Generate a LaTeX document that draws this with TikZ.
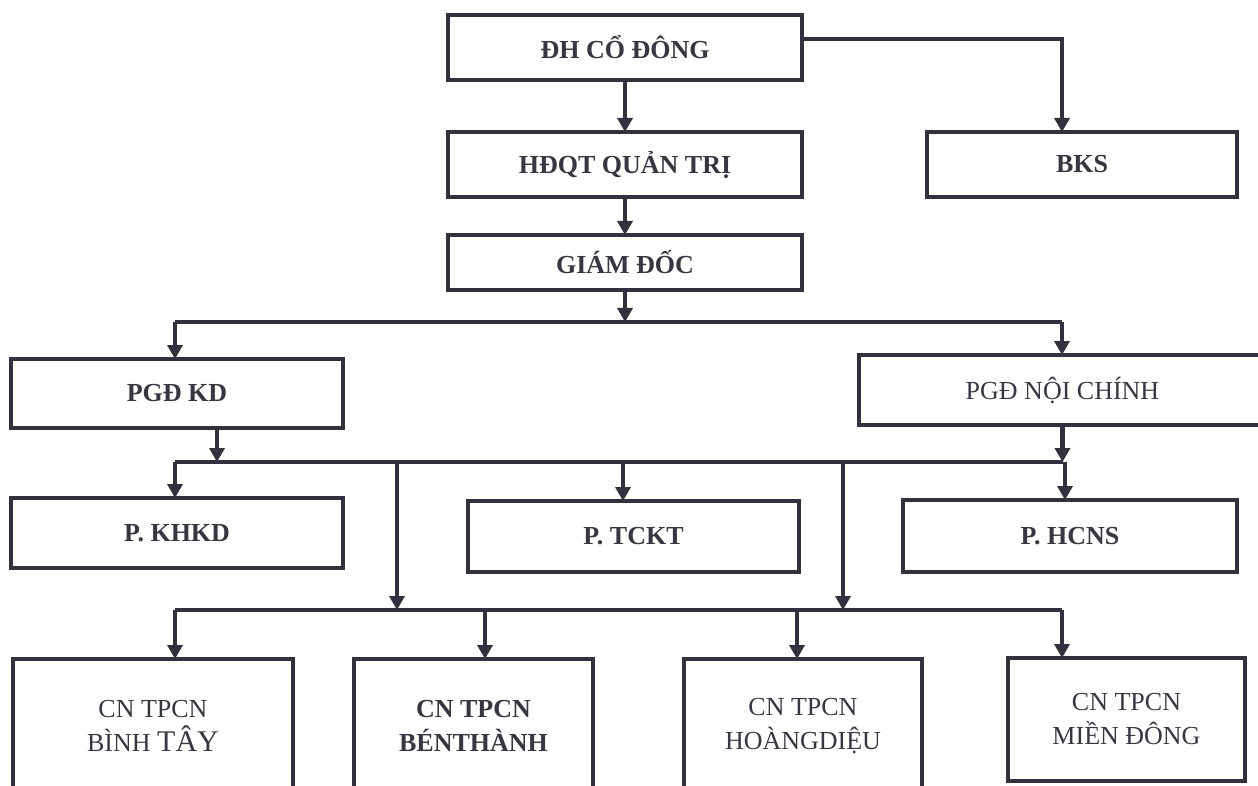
\documentclass[tikz,border=0pt]{standalone}
\usepackage{fontspec}
\setmainfont{Liberation Serif}
\usetikzlibrary{arrows.meta}
\definecolor{ink}{RGB}{50,50,62}
\definecolor{txt}{RGB}{55,55,66}
\begin{document}
\begin{tikzpicture}[x=1pt,y=-1pt,
  box/.style={draw=ink,line width=4.5pt,fill=none,inner sep=0pt,outer sep=0pt,
    text=txt,align=center,font=\fontsize{26}{34}\selectfont\bfseries},
  reg/.style={font=\fontsize{26}{34}\selectfont},
  ln/.style={draw=ink,line width=4.5pt},
  arr/.style={draw=ink,line width=4.5pt,-{Triangle[length=14pt,width=15pt]}}]
\useasboundingbox (0,0) rectangle (1258,786);
\clip (0,0) rectangle (1258,786);
\fill[white] (0,0) rectangle (1258,786);
% boxes
\node[box,minimum width=354pt,minimum height=65pt] (dh) at (625,47.5) {ĐH CỔ ĐÔNG};
\node[box,minimum width=354pt,minimum height=65pt] (hdqt) at (625,164.5) {HĐQT QUẢN TRỊ};
\node[box,minimum width=310pt,minimum height=65pt] (bks) at (1082,164.5) {BKS};
\node[box,minimum width=354pt,minimum height=55pt] (gd) at (625,262.5) {GIÁM ĐỐC};
\node[box,minimum width=332pt,minimum height=69pt] (pgdkd) at (177,393.5) {PGĐ KD};
\node[box,reg,minimum width=407pt,minimum height=70pt] (pgdnc) at (1062.5,390) {PGĐ NỘI CHÍNH};
\node[box,minimum width=332pt,minimum height=70pt] (khkd) at (177,533) {P. KHKD};
\node[box,minimum width=331pt,minimum height=71pt] (tckt) at (633.5,536.5) {P. TCKT};
\node[box,minimum width=334pt,minimum height=72pt] (hcns) at (1070,536) {P. HCNS};
\node[box,reg,minimum width=280pt,minimum height=134pt] (binhtay) at (153,726) {CN TPCN\\BÌNH {\fontsize{30}{34}\selectfont TÂY}};
\node[box,minimum width=239pt,minimum height=134pt] (benthanh) at (473.5,726) {CN TPCN\\BÉNTHÀNH};
\node[box,reg,minimum width=238pt,minimum height=134pt] (hoangdieu) at (803,726) {CN TPCN\\HOÀNGDIỆU};
\node[box,reg,minimum width=237pt,minimum height=123pt] (miendong) at (1126.5,719.5) {CN TPCN\\MIỀN ĐÔNG};
% top connectors
\coordinate (bk) at (1062,39);
\draw[arr] (dh.south) -- (hdqt.north);
\draw[arr] (dh.east |- bk) -- (bk) -- (bk |- bks.north);
\draw[arr] (hdqt.south) -- (gd.north);
% first bus
\coordinate (t1) at (625,322);
\coordinate (t1L) at (175,322);
\coordinate (t1R) at (1062,322);
\draw[arr] (gd.south) -- (t1);
\draw[ln] (t1L) -- (t1R);
\draw[arr] (t1L) -- (t1L |- pgdkd.north);
\draw[arr] (t1R) -- (t1R |- pgdnc.north);
% second bus
\coordinate (b2L) at (175,462);
\coordinate (b2R) at (1063,462);
\coordinate (k2) at (217,462);
\coordinate (d2) at (623,462);
\coordinate (d3) at (1065,462);
\coordinate (v1) at (397,462);
\coordinate (v2) at (843,462);
\draw[arr] (k2 |- pgdkd.south) -- (k2);
\draw[arr] (pgdnc.south) -- (pgdnc.south |- b2R);
\draw[ln] (b2L) -- (b2R);
\draw[arr] (b2L) -- (b2L |- khkd.north);
\draw[arr] (d2) -- (d2 |- tckt.north);
\draw[arr] (d3) -- (d3 |- hcns.north);
% third bus
\coordinate (b3L) at (175,610);
\coordinate (b3R) at (1062,610);
\coordinate (c2) at (485,610);
\coordinate (c3) at (797,610);
\draw[arr] (v1) -- (v1 |- b3L);
\draw[arr] (v2) -- (v2 |- b3L);
\draw[ln] (b3L) -- (b3R);
\draw[arr] (b3L) -- (b3L |- binhtay.north);
\draw[arr] (c2) -- (c2 |- benthanh.north);
\draw[arr] (c3) -- (c3 |- hoangdieu.north);
\draw[arr] (b3R) -- (b3R |- miendong.north);
\end{tikzpicture}
\end{document}
